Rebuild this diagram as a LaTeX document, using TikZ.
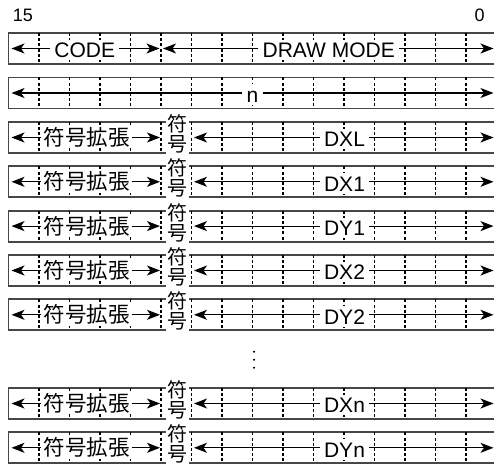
\documentclass[tikz,border=0pt]{standalone}
\usepackage{fontspec}
\setmainfont{Liberation Sans}
\newfontfamily\cjk{Noto Sans CJK JP}
\usetikzlibrary{arrows.meta}
\begin{document}
\begin{tikzpicture}[x=1pt,y=-1pt,
  field/.style={draw=black!72,line width=1.8pt},
  bitsep/.style={black,line width=1.1pt,dash pattern=on 3pt off 2.2pt},
  lbl/.style={fill=white,inner xsep=4pt,inner ysep=1pt,anchor=base,
    font=\fontsize{21}{24}\selectfont,text height=16.7pt,text depth=1.5pt},
  jlbl/.style={fill=white,inner xsep=2pt,inner ysep=1pt,anchor=base,
    font=\cjk\fontsize{21.5}{24}\selectfont},
  signbit/.style={fill=white,inner xsep=1.5pt,inner ysep=1pt,align=center,
    font=\cjk\fontsize{20}{20}\selectfont},
  arr/.style={black,line width=1.2pt,-{Stealth[length=13pt,width=10pt,inset=3.5pt]}},
  bitnum/.style={anchor=base,font=\fontsize{18}{20}\selectfont,inner sep=0pt}
]
\useasboundingbox (0,0) rectangle (494,465);

% field boxes and bit separators
\foreach \yt in {33,77.5,122,166.3,210.6,255,299.3,388,432.3}{
  \draw[field] (8.5,\yt) rectangle (496.5,\yt+31);
  \foreach \k in {1,...,15}
    \draw[bitsep] ({8.5+30.5*\k},\yt) -- ++(0,31);
}

% bit numbers
\node[bitnum] (b15) at (23,21.7) {15};
\node[bitnum] (b0) at (479.5,21.7) {0};

% row 1
\coordinate (r1a) at (11.5,48.5);
\coordinate (r1b) at (159.5,48.5);
\coordinate (r1c) at (163,48.5);
\coordinate (r1d) at (493.5,48.5);
\node[lbl] (code) at (84.75,57.7) {CODE};
\node[lbl] (mode) at (328.75,57.7) {DRAW MODE};
\draw[arr] (code.west |- r1a) -- (r1a);
\draw[arr] (code.east |- r1b) -- (r1b);
\draw[arr] (mode.west |- r1c) -- (r1c);
\draw[arr] (mode.east |- r1d) -- (r1d);

% row 2
\coordinate (r2a) at (11.5,93);
\coordinate (r2d) at (493.5,93);
\node[lbl] (n) at (252.5,102.2) {n};
\draw[arr] (n.west |- r2a) -- (r2a);
\draw[arr] (n.east |- r2d) -- (r2d);

% signed rows
\foreach \yt/\nm [count=\i] in {122/DXL,166.3/DX1,210.6/DY1,255/DX2,299.3/DY2,388/DXn,432.3/DYn}{
  \pgfmathsetmacro\cy{\yt+15.5}
  \coordinate (s\i a) at (11.5,\cy);
  \coordinate (s\i b) at (160,\cy);
  \coordinate (s\i c) at (194,\cy);
  \coordinate (s\i d) at (493.5,\cy);
  \node[jlbl] (ext\i) at (86.5,\cy+8) {符号拡張};
  \node[signbit] (sg\i) at (177,\cy-3.5) {符\\号};
  \node[lbl] (val\i) at (344.5,\cy+9.2) {\nm};
  \draw[arr] (ext\i.west |- s\i a) -- (s\i a);
  \draw[arr] (ext\i.east |- s\i b) -- (s\i b);
  \draw[arr] (val\i.west |- s\i c) -- (s\i c);
  \draw[arr] (val\i.east |- s\i d) -- (s\i d);
}

% vertical ellipsis
\foreach \yy in {351.7,359.7,367.7}
  \fill (254,\yy) circle (1.2pt);
\end{tikzpicture}
\end{document}
